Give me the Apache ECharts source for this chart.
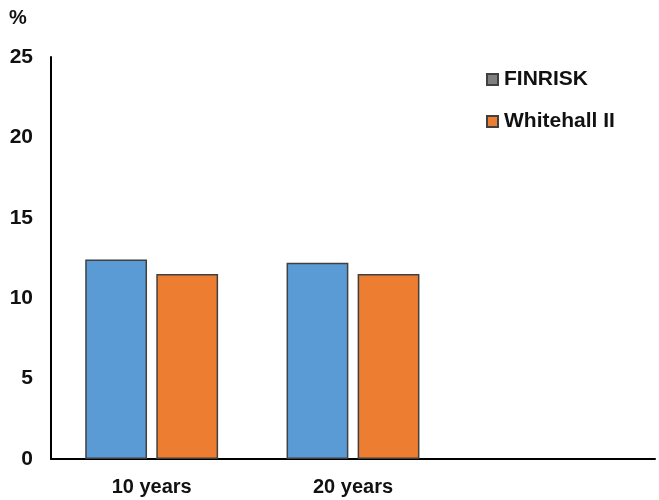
<!DOCTYPE html>
<html>
<head>
<meta charset="utf-8">
<script src="https://cdn.jsdelivr.net/npm/echarts@6/dist/echarts.min.js"></script>
<style>html,body{margin:0;padding:0;background:#fff;}#c{width:659px;height:500px;}</style>
</head>
<body>
<div id="c"></div>
<script>
var categories = ['10 years', '20 years', ''];
var finrisk = [12.4, 12.2, null];
var whitehall = [11.5, 11.5, null];
var yTicks = [0, 5, 10, 15, 20, 25];

var font = '"Liberation Sans", Arial, sans-serif';
var chart = echarts.init(document.getElementById('c'), null, {renderer: 'canvas'});
chart.setOption({
  animation: false,
  backgroundColor: '#ffffff',
  textStyle: {fontFamily: font},
  grid: {left: 51, right: 4, top: 57, bottom: 41},
  title: {
    text: '%', left: 4, top: 3,
    textStyle: {fontFamily: font, fontSize: 20, fontWeight: 'bold', color: '#111'}
  },
  legend: {
    orient: 'vertical', left: 481, top: 64, itemGap: 21,
    itemWidth: 11, itemHeight: 11, icon: 'rect',
    textStyle: {fontFamily: font, fontSize: 21, fontWeight: 'bold', color: '#111', padding: [0,0,0,1]},
    data: ['FINRISK', 'Whitehall II']
  },
  xAxis: {
    type: 'category', data: categories,
    axisLine: {lineStyle: {color: '#000', width: 2}},
    axisTick: {show: false},
    axisLabel: {fontFamily: font, fontSize: 20, fontWeight: 'bold', color: '#111', margin: 18}
  },
  yAxis: {
    type: 'value', min: yTicks[0], max: yTicks[yTicks.length-1], interval: 5,
    axisLine: {show: true, lineStyle: {color: '#000', width: 2}},
    axisTick: {show: false},
    splitLine: {show: false},
    axisLabel: {fontFamily: font, fontSize: 21, fontWeight: 'bold', color: '#111', margin: 18}
  },
  series: [
    {
      name: 'FINRISK', type: 'bar', barGap: '15%', barCategoryGap: '34%',
      itemStyle: {color: '#7f7f7f', borderColor: '#404040', borderWidth: 1.5},
      data: finrisk.map(function(v){ return {value: v, itemStyle: {color: '#5b9bd5'}}; })
    },
    {
      name: 'Whitehall II', type: 'bar',
      itemStyle: {color: '#ed7d31', borderColor: '#404040', borderWidth: 1.5},
      data: whitehall
    }
  ]
});
</script>
</body>
</html>
